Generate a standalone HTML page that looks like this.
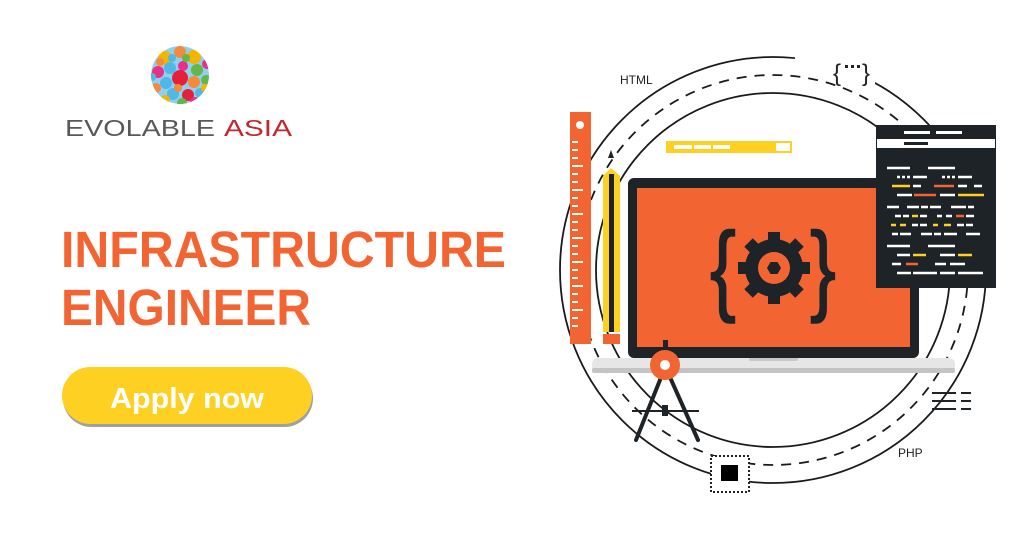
<!DOCTYPE html>
<html><head><meta charset="utf-8"><style>html,body{margin:0;padding:0;background:#fff}svg{display:block}</style></head><body>
<svg width="1024" height="536" viewBox="0 0 1024 536" xmlns="http://www.w3.org/2000/svg" font-family="Liberation Sans, Arial, sans-serif">
<rect width="1024" height="536" fill="#fff"/>
<!-- logo -->
<defs><clipPath id="ball"><circle cx="180" cy="75" r="29"/></clipPath></defs>
<g clip-path="url(#ball)">
<circle cx="180" cy="75" r="29" fill="#8fd0ef"/>
<circle cx="165" cy="58" r="7" fill="#f5b400"/><circle cx="180" cy="52" r="6" fill="#f48a3c"/><circle cx="194" cy="57" r="7" fill="#f5b400"/>
<circle cx="158" cy="72" r="6" fill="#e8308a"/><circle cx="170" cy="68" r="6" fill="#4fb8e8"/><circle cx="183" cy="66" r="5" fill="#e8308a"/><circle cx="197" cy="70" r="6" fill="#62b64a"/><circle cx="207" cy="64" r="5" fill="#e8308a"/>
<circle cx="180" cy="78" r="8" fill="#e5203a"/><circle cx="166" cy="83" r="6" fill="#4fb8e8"/><circle cx="194" cy="82" r="6" fill="#f48a3c"/><circle cx="206" cy="80" r="5" fill="#62b64a"/>
<circle cx="156" cy="88" r="5" fill="#f48a3c"/><circle cx="173" cy="94" r="6" fill="#4fb8e8"/><circle cx="188" cy="95" r="6" fill="#e5203a"/><circle cx="200" cy="93" r="5" fill="#4fb8e8"/>
<circle cx="165" cy="100" r="5" fill="#f5b400"/><circle cx="182" cy="103" r="5" fill="#62b64a"/><circle cx="195" cy="102" r="5" fill="#e8308a"/>
<circle cx="152" cy="77" r="4" fill="#4fb8e8"/><circle cx="172" cy="58" r="4" fill="#4fb8e8"/><circle cx="200" cy="48" r="4" fill="#e8308a"/>
<circle cx="186" cy="58" r="4" fill="#62b64a"/><circle cx="160" cy="62" r="4" fill="#f48a3c"/><circle cx="205" cy="88" r="4" fill="#f5b400"/><circle cx="150" cy="95" r="4" fill="#62b64a"/><circle cx="178" cy="88" r="4" fill="#f48a3c"/>
</g>
<text x="65" y="136" font-size="23" fill="#58595b" textLength="150" lengthAdjust="spacingAndGlyphs">EVOLABLE</text>
<text x="224" y="136" font-size="23" fill="#c1272d" textLength="68" lengthAdjust="spacingAndGlyphs">ASIA</text>
<!-- headline -->
<text x="61" y="267" font-size="51" font-weight="bold" fill="#f26533" textLength="445" lengthAdjust="spacingAndGlyphs">INFRASTRUCTURE</text>
<text x="61" y="325" font-size="51" font-weight="bold" fill="#f26533" textLength="250" lengthAdjust="spacingAndGlyphs">ENGINEER</text>
<!-- button -->
<rect x="63" y="370" width="250" height="57" rx="28.5" fill="#a0a0a0"/>
<rect x="62" y="367" width="250" height="57" rx="28.5" fill="#fdd022"/>
<text x="110" y="408" font-size="29" font-weight="bold" fill="#fff" textLength="154" lengthAdjust="spacingAndGlyphs">Apply now</text>
<!-- circles -->
<circle cx="773" cy="270" r="213" fill="none" stroke="#1a1a1a" stroke-width="1.8"/>
<rect x="795" y="42" width="80" height="42" fill="#fff"/>
<circle cx="773" cy="270" r="177" fill="none" stroke="#1a1a1a" stroke-width="1.8"/>
<circle cx="773" cy="270" r="195" fill="none" stroke="#1a1a1a" stroke-width="1.8" stroke-dasharray="10 8"/>
<text x="620" y="84" font-size="12" fill="#222">HTML</text>
<text x="898" y="457" font-size="12" fill="#222">PHP</text>
<text x="833" y="81" font-size="24" fill="#222">{</text>
<text x="862" y="81" font-size="24" fill="#222">}</text>
<g fill="#222"><rect x="845" y="65" width="3" height="3"/><rect x="851" y="65" width="3" height="3"/><rect x="857" y="65" width="3" height="3"/></g>
<!-- ruler -->
<rect x="570" y="112" width="21" height="232" fill="#f26533"/>
<circle cx="580" cy="125" r="4" fill="#fff"/>
<g stroke="#fff" stroke-width="2">
<line x1="572" y1="142" x2="578" y2="142"/><line x1="572" y1="150" x2="578" y2="150"/><line x1="572" y1="158" x2="578" y2="158"/><line x1="572" y1="166" x2="583" y2="166"/><line x1="572" y1="174" x2="578" y2="174"/><line x1="572" y1="182" x2="578" y2="182"/><line x1="572" y1="190" x2="583" y2="190"/><line x1="572" y1="198" x2="578" y2="198"/><line x1="572" y1="206" x2="578" y2="206"/><line x1="572" y1="214" x2="583" y2="214"/><line x1="572" y1="222" x2="578" y2="222"/><line x1="572" y1="230" x2="578" y2="230"/><line x1="572" y1="238" x2="583" y2="238"/><line x1="572" y1="246" x2="578" y2="246"/><line x1="572" y1="254" x2="578" y2="254"/><line x1="572" y1="262" x2="583" y2="262"/><line x1="572" y1="270" x2="578" y2="270"/><line x1="572" y1="278" x2="578" y2="278"/><line x1="572" y1="286" x2="583" y2="286"/><line x1="572" y1="294" x2="578" y2="294"/><line x1="572" y1="302" x2="578" y2="302"/><line x1="572" y1="310" x2="583" y2="310"/><line x1="572" y1="318" x2="578" y2="318"/><line x1="572" y1="326" x2="578" y2="326"/>
</g>
<!-- pencil -->
<polygon points="611,150 608,158 614,158" fill="#222"/>
<polygon points="603,176 611,168 620,176 620,332 603,332" fill="#fdd022"/>
<rect x="609" y="174" width="5" height="158" fill="#1d2326"/>
<rect x="603" y="334" width="17" height="10" fill="#f26533"/>
<!-- yellow bar -->
<rect x="666" y="141" width="126" height="12" fill="#fdd022"/>
<g fill="#fff"><rect x="674" y="145" width="18" height="4"/><rect x="694" y="145" width="17" height="4"/><rect x="713" y="145" width="17" height="4"/><rect x="776" y="143" width="14" height="8"/></g>
<!-- laptop -->
<rect x="592" y="358" width="363" height="15" rx="6" fill="#e6e6e6"/>
<rect x="592" y="368" width="363" height="5" rx="2" fill="#c4c4c4"/>
<rect x="749" y="356" width="49" height="5" rx="2" fill="#c8c8c8"/>
<rect x="628" y="178" width="291" height="180" rx="6" fill="#1d2326"/>
<rect x="637" y="188" width="273" height="159" fill="#f26533"/>
<!-- braces -->
<text x="710" y="302" font-size="100" fill="#1d2326" stroke="#1d2326" stroke-width="1.5" textLength="26" lengthAdjust="spacingAndGlyphs">{</text>
<text x="810" y="302" font-size="100" fill="#1d2326" stroke="#1d2326" stroke-width="1.5" textLength="26" lengthAdjust="spacingAndGlyphs">}</text>
<!-- gear -->
<g transform="translate(774,268)" fill="#1d2326">
<g id="t"><rect x="-6" y="-36" width="12" height="12"/></g>
<use href="#t" transform="rotate(45)"/><use href="#t" transform="rotate(90)"/><use href="#t" transform="rotate(135)"/><use href="#t" transform="rotate(180)"/><use href="#t" transform="rotate(225)"/><use href="#t" transform="rotate(270)"/><use href="#t" transform="rotate(315)"/>
<circle r="29"/>
<circle r="16" fill="#f26533"/>
<polygon points="7,0 3.5,6 -3.5,6 -7,0 -3.5,-6 3.5,-6"/>
</g>
<!-- code window -->
<rect x="876" y="125" width="120" height="163" fill="#1d2326"/>
<rect x="877" y="139" width="118" height="9" fill="#fff"/>
<rect x="904" y="142" width="24" height="3" fill="#1d2326"/>
<g fill="#fff"><rect x="904" y="131" width="26" height="3"/><rect x="936" y="131" width="26" height="3"/></g>
<g stroke-width="2.5">
<g stroke="#fff">
<line x1="887" y1="168" x2="910" y2="168"/><line x1="928" y1="168" x2="955" y2="168"/>
<line x1="897" y1="177" x2="900" y2="177"/><line x1="902" y1="177" x2="905" y2="177"/><line x1="907" y1="177" x2="910" y2="177"/><line x1="913" y1="177" x2="927" y2="177"/><line x1="942" y1="177" x2="945" y2="177"/><line x1="947" y1="177" x2="950" y2="177"/><line x1="952" y1="177" x2="955" y2="177"/><line x1="958" y1="177" x2="972" y2="177"/>
<line x1="913" y1="186" x2="921" y2="186"/><line x1="958" y1="186" x2="967" y2="186"/><line x1="974" y1="186" x2="982" y2="186"/>
<line x1="897" y1="195" x2="912" y2="195"/><line x1="940" y1="195" x2="955" y2="195"/>
<line x1="887" y1="207" x2="899" y2="207"/><line x1="907" y1="207" x2="919" y2="207"/><line x1="921" y1="207" x2="928" y2="207"/><line x1="930" y1="207" x2="941" y2="207"/><line x1="951" y1="207" x2="966" y2="207"/><line x1="968" y1="207" x2="974" y2="207"/>
<line x1="895" y1="216" x2="901" y2="216"/><line x1="903" y1="216" x2="909" y2="216"/><line x1="920" y1="216" x2="927" y2="216"/><line x1="937" y1="216" x2="942" y2="216"/><line x1="946" y1="216" x2="952" y2="216"/><line x1="966" y1="216" x2="974" y2="216"/>
<line x1="912" y1="225" x2="918" y2="225"/><line x1="920" y1="225" x2="927" y2="225"/><line x1="957" y1="225" x2="964" y2="225"/><line x1="966" y1="225" x2="973" y2="225"/>
<line x1="892" y1="234" x2="898" y2="234"/><line x1="900" y1="234" x2="911" y2="234"/><line x1="921" y1="234" x2="932" y2="234"/><line x1="934" y1="234" x2="941" y2="234"/><line x1="944" y1="234" x2="957" y2="234"/><line x1="966" y1="234" x2="980" y2="234"/>
<line x1="887" y1="246" x2="910" y2="246"/><line x1="928" y1="246" x2="955" y2="246"/>
<line x1="897" y1="255" x2="910" y2="255"/><line x1="940" y1="255" x2="955" y2="255"/>
<line x1="892" y1="264" x2="901" y2="264"/><line x1="935" y1="264" x2="946" y2="264"/><line x1="950" y1="264" x2="965" y2="264"/>
<line x1="897" y1="273" x2="911" y2="273"/><line x1="913" y1="273" x2="937" y2="273"/><line x1="940" y1="273" x2="955" y2="273"/><line x1="958" y1="273" x2="983" y2="273"/>
</g>
<g stroke="#fdd022">
<line x1="892" y1="186" x2="910" y2="186"/><line x1="958" y1="195" x2="984" y2="195"/><line x1="912" y1="216" x2="918" y2="216"/>
<line x1="891" y1="225" x2="896" y2="225"/><line x1="900" y1="225" x2="906" y2="225"/><line x1="933" y1="225" x2="938" y2="225"/><line x1="944" y1="225" x2="951" y2="225"/>
<line x1="913" y1="255" x2="926" y2="255"/><line x1="958" y1="255" x2="972" y2="255"/>
</g>
<g stroke="#f26533">
<line x1="934" y1="186" x2="954" y2="186"/><line x1="914" y1="195" x2="936" y2="195"/><line x1="956" y1="216" x2="964" y2="216"/><line x1="906" y1="264" x2="918" y2="264"/>
</g>
</g>
<!-- compass -->
<g stroke="#1d2326" stroke-width="4" stroke-linecap="round">
<line x1="662" y1="375" x2="636" y2="440"/><line x1="669" y1="375" x2="698" y2="440"/>
</g>
<line x1="632" y1="411" x2="699" y2="411" stroke="#1d2326" stroke-width="2"/>
<rect x="662" y="405" width="6" height="11" fill="#1d2326"/>
<rect x="663" y="340" width="5" height="12" fill="#1d2326"/>
<circle cx="665" cy="365" r="15" fill="#f26533"/>
<circle cx="665" cy="365" r="5" fill="#fff"/>
<!-- lines icon -->
<g stroke="#1d2326" stroke-width="2"><line x1="932" y1="393" x2="956" y2="393"/><line x1="932" y1="401" x2="956" y2="401"/><line x1="932" y1="409" x2="956" y2="409"/><line x1="961" y1="393" x2="971" y2="393"/><line x1="961" y1="401" x2="971" y2="401"/><line x1="961" y1="409" x2="971" y2="409"/></g>
<!-- square -->
<rect x="711" y="456" width="38" height="36" fill="#fff" stroke="#1d2326" stroke-width="2" stroke-dasharray="2 2"/>
<rect x="721" y="465" width="17" height="16" fill="#000"/>
</svg>
</body></html>
